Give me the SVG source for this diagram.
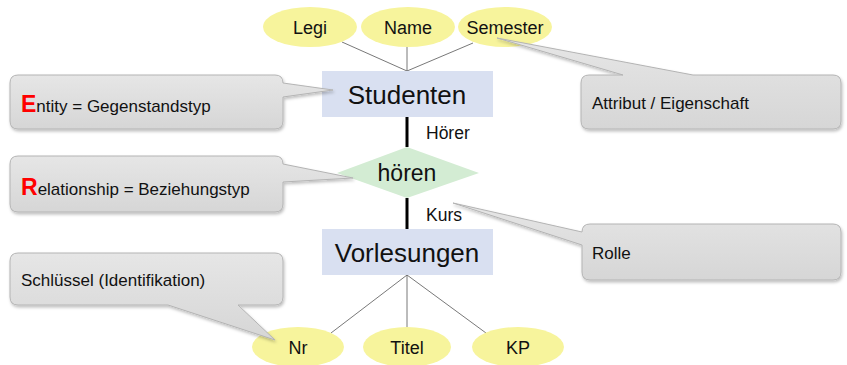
<svg xmlns="http://www.w3.org/2000/svg" width="847" height="365" viewBox="0 0 847 365">
<defs>
<linearGradient id="cg" x1="0" y1="0" x2="0" y2="1">
<stop offset="0" stop-color="#e6e6e6"/>
<stop offset="1" stop-color="#d6d6d6"/>
</linearGradient>
<filter id="sh" x="-5%" y="-10%" width="110%" height="130%">
<feDropShadow dx="1" dy="2" stdDeviation="1.5" flood-color="#000" flood-opacity="0.25"/>
</filter>
</defs>
<style>
text{font-family:"Liberation Sans",Arial,sans-serif;fill:#111}
.attr{fill:#f7f49c}
.ent{fill:#d9e0f1}
.rel{fill:#d3ecd3}
.call{fill:url(#cg);stroke:#b4b4b4;stroke-width:1;filter:url(#sh)}
.thin{stroke:#555;stroke-width:0.8;fill:none}
.thick{stroke:#000;stroke-width:3;fill:none}
.at{font-size:18px;text-anchor:middle}
.big{font-size:26px;text-anchor:middle}
.ct{font-size:17px}
.cap{font-size:23px;font-weight:bold;fill:#ff0000}
.role{font-size:17.5px}
</style>
<g id="connectors">
<line class="thin" x1="342" y1="42" x2="407" y2="71"/>
<line class="thin" x1="407" y1="47" x2="407" y2="71"/>
<line class="thin" x1="473" y1="43" x2="407" y2="71"/>
<line class="thick" x1="407" y1="117" x2="407" y2="147"/>
<line class="thick" x1="407" y1="198" x2="407" y2="229"/>
<line class="thin" x1="407" y1="275" x2="331" y2="333"/>
<line class="thin" x1="407" y1="275" x2="407" y2="327"/>
<line class="thin" x1="407" y1="275" x2="486" y2="333"/>
<text class="role" x="426" y="139">Hörer</text>
<text class="role" x="426" y="221">Kurs</text>
</g>
<g id="legi"><ellipse class="attr" cx="310" cy="27" rx="47" ry="20"/><text class="at" x="310" y="34">Legi</text></g>
<g id="name"><ellipse class="attr" cx="408" cy="27" rx="47" ry="20"/><text class="at" x="408" y="34">Name</text></g>
<g id="semester"><ellipse class="attr" cx="505" cy="27" rx="47" ry="20"/><text class="at" x="505" y="34">Semester</text></g>
<g id="studenten"><rect class="ent" x="322" y="71" width="171" height="46"/><text class="big" x="407" y="104">Studenten</text></g>
<g id="hoeren"><polygon class="rel" points="337,173 407,147 479,173 407,198"/><text class="at" x="407" y="181" style="font-size:23px">hören</text></g>
<g id="vorlesungen"><rect class="ent" x="322" y="229" width="171" height="46"/><text class="big" x="407" y="262">Vorlesungen</text></g>
<g id="nr"><ellipse class="attr" cx="298" cy="347" rx="46" ry="20"/><text class="at" x="298" y="354">Nr</text></g>
<g id="titel"><ellipse class="attr" cx="407" cy="347" rx="44" ry="20"/><text class="at" x="407" y="354">Titel</text></g>
<g id="kp"><ellipse class="attr" cx="518" cy="347" rx="46" ry="20"/><text class="at" x="518" y="354">KP</text></g>
<g id="callout-entity">
<path class="call" d="M18,75 H275 Q283,75 283,83 V83 L333,90 L283,97 V121 Q283,129 275,129 H18 Q10,129 10,121 V83 Q10,75 18,75 Z"/>
<text x="21" y="112"><tspan class="cap">E</tspan><tspan class="ct">ntity = Gegenstandstyp</tspan></text>
</g>
<g id="callout-relationship">
<path class="call" d="M18,156 H275 Q283,156 283,164 V164 L353,178 L283,182 V204 Q283,212 275,212 H18 Q10,212 10,204 V164 Q10,156 18,156 Z"/>
<text x="21" y="195"><tspan class="cap">R</tspan><tspan class="ct">elationship = Beziehungstyp</tspan></text>
</g>
<g id="callout-schluessel">
<path class="call" d="M18,253 H275 Q283,253 283,261 V297 Q283,305 275,305 H238 L275,340 L168,305 H18 Q10,305 10,297 V261 Q10,253 18,253 Z"/>
<text class="ct" x="21" y="286">Schlüssel (Identifikation)</text>
</g>
<g id="callout-attribut">
<path class="call" d="M589,75 H623 L497,38 L693,75 H833 Q841,75 841,83 V121 Q841,129 833,129 H589 Q581,129 581,121 V83 Q581,75 589,75 Z"/>
<text class="ct" x="592" y="109">Attribut / Eigenschaft</text>
</g>
<g id="callout-rolle">
<path class="call" d="M590,224 H833 Q841,224 841,232 V272 Q841,280 833,280 H590 Q582,280 582,272 V245 L453,203 L582,232 Q582,224 590,224 Z"/>
<text class="ct" x="592" y="259">Rolle</text>
</g>
</svg>
